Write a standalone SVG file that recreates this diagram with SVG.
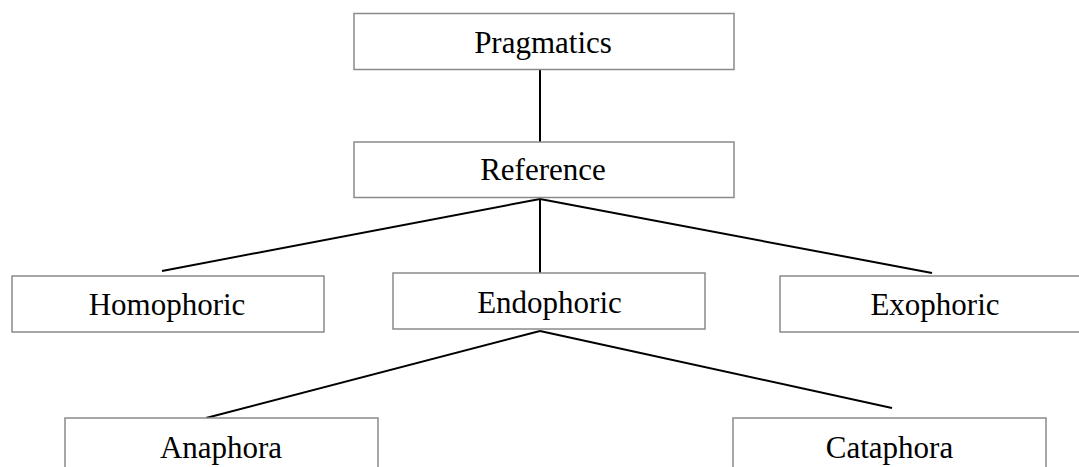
<svg xmlns="http://www.w3.org/2000/svg" width="1079" height="467" viewBox="0 0 1079 467">
<style>
.box{fill:#fff;stroke:#8a8a8a;stroke-width:1.5}
.lbl{font-family:"Liberation Serif","Times New Roman",serif;font-size:31px;fill:#000;text-anchor:middle}
.conn line{stroke:#000;stroke-width:2;stroke-linecap:butt}
</style>
<rect width="1079" height="467" fill="#fff"/>
<g id="connectors" class="conn">
<line x1="540" y1="69" x2="540" y2="142"/>
<line x1="540" y1="199" x2="162" y2="271"/>
<line x1="540" y1="199" x2="540" y2="273"/>
<line x1="540" y1="199" x2="932" y2="273"/>
<line x1="540" y1="331" x2="206" y2="418"/>
<line x1="540" y1="331" x2="892" y2="408"/>
</g>
<g id="pragmatics"><rect class="box" x="354" y="13.5" width="380" height="56"/><text class="lbl" x="543" y="53">Pragmatics</text></g>
<g id="reference"><rect class="box" x="354" y="142" width="380" height="55.5"/><text class="lbl" x="543" y="180">Reference</text></g>
<g id="homophoric"><rect class="box" x="12" y="276" width="312" height="56"/><text class="lbl" x="167" y="315">Homophoric</text></g>
<g id="endophoric"><rect class="box" x="393" y="273" width="312" height="56"/><text class="lbl" x="549.5" y="313">Endophoric</text></g>
<g id="exophoric"><rect class="box" x="780" y="276" width="312" height="56"/><text class="lbl" x="935" y="315">Exophoric</text></g>
<g id="anaphora"><rect class="box" x="65" y="418" width="313" height="60"/><text class="lbl" x="221" y="458">Anaphora</text></g>
<g id="cataphora"><rect class="box" x="733" y="418" width="313" height="60"/><text class="lbl" x="889.5" y="458">Cataphora</text></g>
</svg>
